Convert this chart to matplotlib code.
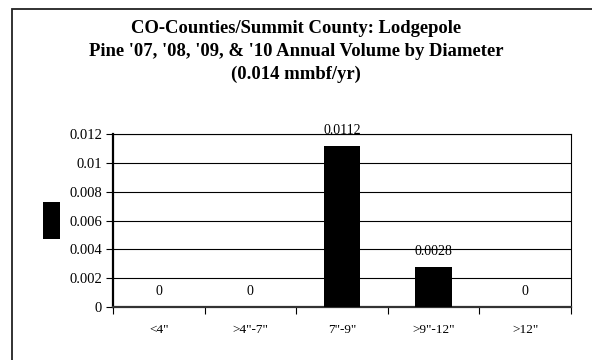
import matplotlib.pyplot as plt
import matplotlib.patches as mpatches
import matplotlib.ticker as mticker

categories = ['<4"', '>4"-7"', '7"-9"', '>9"-12"', '>12"']
volumes = [0, 0, 0.0112, 0.0028, 0]
value_labels = ["0", "0", "0.0112", "0.0028", "0"]
title_lines = [
    "CO-Counties/Summit County: Lodgepole",
    "Pine '07, '08, '09, & '10 Annual Volume by Diameter",
    "(0.014 mmbf/yr)",
]


def main() -> None:
    plt.rcParams["font.family"] = ["Liberation Serif", "DejaVu Serif"]

    W, H = 592, 360
    fig = plt.figure(figsize=(W / 100, H / 100), dpi=100)

    # chart frame (left/top edges visible, runs off the bottom-right)
    fig.patches.append(mpatches.Rectangle((12 / W, -0.1), 1.2, 1.1 - 9 / H,
                                          transform=fig.transFigure, fill=False,
                                          edgecolor="#222222", linewidth=1.3))

    ax = fig.add_axes([113 / W, 1 - 307 / H, (571 - 113) / W, (307 - 134) / H])
    x = range(len(categories))
    ax.bar(x, volumes, width=0.4, color="black", zorder=3)

    ax.set_xlim(-0.5, len(categories) - 0.5)
    ax.set_ylim(0, 0.012)
    ax.yaxis.set_major_locator(mticker.MultipleLocator(0.002))
    ax.yaxis.set_major_formatter(mticker.FuncFormatter(lambda v, _: f"{v:g}"))
    ax.grid(axis="y", color="black", linewidth=0.8, zorder=0)

    ax.set_xticks([i + 0.5 for i in range(-1, len(categories))], minor=False)
    ax.set_xticklabels([])
    ax.set_xticks(list(x), minor=True)
    ax.set_xticklabels(categories, minor=True, fontsize=9.5)
    ax.tick_params(axis="x", which="minor", length=0, pad=12)
    ax.tick_params(axis="x", which="major", length=5, width=0.8, direction="out")
    ax.tick_params(axis="y", length=5, width=0.8, direction="out", labelsize=10.5, pad=3)

    for side in ("top", "right"):
        ax.spines[side].set_linewidth(0.8)
    ax.spines["left"].set_linewidth(1.6)
    ax.spines["bottom"].set_linewidth(1.6)
    ax.spines["bottom"].set_color("#333333")

    for i, (v, lab) in enumerate(zip(volumes, value_labels)):
        ax.annotate(lab, (i, v), xytext=(0, 6.5), textcoords="offset points",
                    ha="center", va="bottom", fontsize=10, zorder=4)

    for j, line in enumerate(title_lines):
        fig.text(0.5, 1 - (28.5 + 23 * j) / H, line, ha="center", va="center",
                 fontsize=13.4, fontweight="bold")

    # series key drawn as a solid block left of the axis
    fig.patches.append(mpatches.Rectangle((43 / W, 1 - 239 / H), 17 / W, 37 / H,
                                          transform=fig.transFigure,
                                          facecolor="black", edgecolor="none"))

    fig.savefig("out.png", dpi=100)


if __name__ == "__main__":
    main()
